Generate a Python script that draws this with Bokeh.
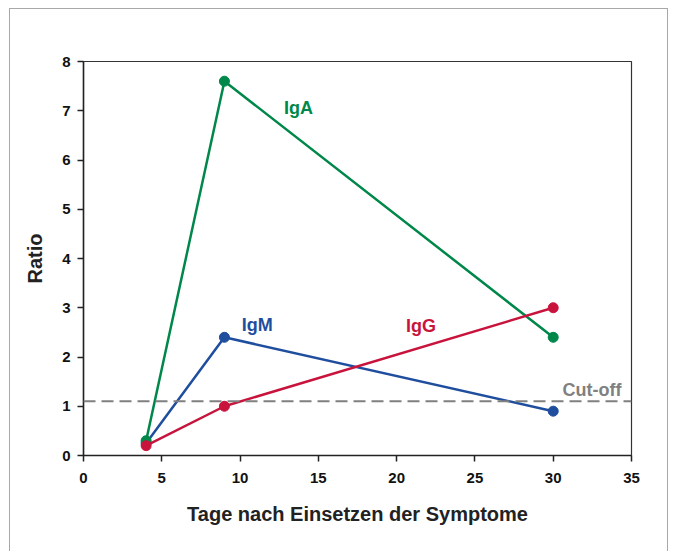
from bokeh.plotting import figure
from bokeh.models import Range1d, FixedTicker, Span, Label
from bokeh.embed import file_html
from bokeh.resources import INLINE

days = [4, 9, 30]
iga = [0.3, 7.6, 2.4]
igm = [0.25, 2.4, 0.9]
igg = [0.2, 1.0, 3.0]
cutoff = 1.1
x_ticks = [0, 5, 10, 15, 20, 25, 30, 35]
y_ticks = [0, 1, 2, 3, 4, 5, 6, 7, 8]

GREEN = "#00874a"
BLUE = "#1f4e9e"
RED = "#c8143c"
GRAY = "#808080"
FONT = "Liberation Sans"

p = figure(width=659, height=543, output_backend="svg", toolbar_location=None,
           x_range=Range1d(0, 35), y_range=Range1d(0, 8),
           min_border_left=73, min_border_right=38, min_border_top=52, min_border_bottom=97,
           styles={"border-left": "1px solid #a8a8a8", "border-top": "1px solid #a8a8a8",
                   "border-right": "1px solid #a8a8a8", "box-sizing": "border-box",
                   "margin-left": "9px", "margin-top": "8px"})
p.grid.visible = False
p.outline_line_color = "#333333"
p.outline_line_width = 1.2

for ax in (p.xaxis[0], p.yaxis[0]):
    ax.axis_line_color = "#222222"
    ax.axis_line_width = 1.5
    ax.major_tick_line_color = "#222222"
    ax.major_tick_line_width = 1.5
    ax.major_tick_in = 0
    ax.major_tick_out = 6
    ax.minor_tick_line_color = None
    ax.major_label_text_font = FONT
    ax.major_label_text_font_style = "bold"
    ax.major_label_text_font_size = "15px"
    ax.major_label_text_color = "#111111"
    ax.axis_label_text_font = FONT
    ax.axis_label_text_font_style = "bold"
    ax.axis_label_text_font_size = "20px"
    ax.axis_label_text_color = "#222222"

p.xaxis.ticker = FixedTicker(ticks=x_ticks)
p.yaxis.ticker = FixedTicker(ticks=y_ticks)
p.xaxis.major_label_standoff = 11
p.yaxis.major_label_standoff = 7
p.xaxis.axis_label = "Tage nach Einsetzen der Symptome"
p.yaxis.axis_label = "Ratio"
p.xaxis.axis_label_standoff = 17
p.yaxis.axis_label_standoff = 13

p.add_layout(Span(location=cutoff, dimension="width", line_color=GRAY,
                  line_width=2, line_dash="12 6"))

for ys, c in ((igm, BLUE), (iga, GREEN), (igg, RED)):
    p.line(days, ys, line_color=c, line_width=2.5)
    p.scatter(days, ys, size=10, fill_color=c, line_color=c)

labels = [("IgA", 12.8, 7.06, GREEN), ("IgM", 10.1, 2.64, BLUE),
          ("IgG", 20.6, 2.62, RED), ("Cut-off", 30.6, 1.34, GRAY)]
for t, x, y, c in labels:
    p.add_layout(Label(x=x, y=y, text=t, text_color=c, text_font=FONT,
                       text_font_style="bold", text_font_size="18px",
                       text_baseline="middle", text_align="left"))

open("out.html", "w").write(file_html(p, INLINE))
